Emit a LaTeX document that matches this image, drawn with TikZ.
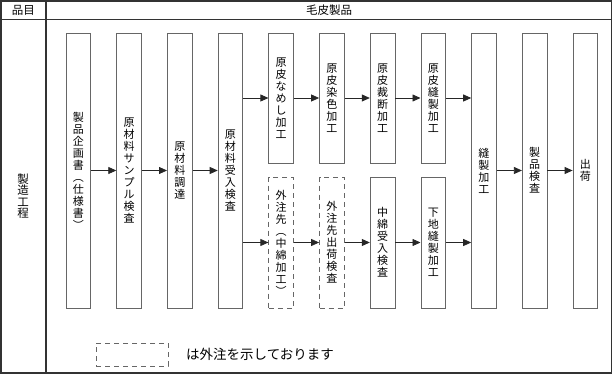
\documentclass[tikz,border=0pt]{standalone}
\usepackage{fontspec}
\newfontfamily\jp{Noto Sans CJK JP}
\usetikzlibrary{arrows.meta}
\begin{document}
\begin{tikzpicture}[x=1pt,y=-1pt,
  pbox/.style={draw=black!60, line width=0.8pt, minimum width=24.7pt, inner sep=0pt, align=center, font=\jp\fontsize{11}{12}\selectfont},
  longbox/.style={pbox, minimum height=275pt},
  topbox/.style={pbox, minimum height=130pt},
  lowbox/.style={pbox, minimum height=131pt},
  ext/.style={dash pattern=on 5pt off 4pt},
  flow/.style={-{Triangle[length=8pt,width=7pt]}, line width=0.8pt, draw=black!85},
  frame/.style={draw=black!80, line width=1.2pt},
  lbl/.style={font=\jp\fontsize{11.5}{11.3}\selectfont, inner sep=0pt, align=center}]
\useasboundingbox (0,0) rectangle (613,374);
% frame
\draw[frame] (1,1) rectangle (611.5,373);
\draw[frame] (1,19.5) -- (611.5,19.5);
\draw[frame] (46,1) -- (46,373);
% headers
\node[lbl] (hd1) at (23.5,10) {品目};
\node[lbl] (hd2) at (329,10) {毛皮製品};
\node[lbl] (proc) at (23,196) {製\\造\\工\\程};
% boxes
\node[longbox] (b1) at (78.35,170.5) {製\\品\\企\\画\\書\\︵\\仕\\様\\書\\︶};
\node[longbox] (b2) at (129.05,170.5) {原\\材\\料\\サ\\ン\\プ\\ル\\検\\査};
\node[longbox] (b3) at (179.75,170.5) {原\\材\\料\\調\\達};
\node[longbox] (b4) at (230.45,170.5) {原\\材\\料\\受\\入\\検\\査};
\node[topbox] (t1) at (281.15,98) {原\\皮\\な\\め\\し\\加\\工};
\node[topbox] (t2) at (331.85,98) {原\\皮\\染\\色\\加\\工};
\node[topbox] (t3) at (382.55,98) {原\\皮\\裁\\断\\加\\工};
\node[topbox] (t4) at (433.25,98) {原\\皮\\縫\\製\\加\\工};
\node[lowbox,ext] (u1) at (281.15,242.5) {外\\注\\先\\︵\\中\\綿\\加\\工\\︶};
\node[lowbox,ext] (u2) at (331.85,242.5) {外\\注\\先\\出\\荷\\検\\査};
\node[lowbox] (u3) at (382.55,242.5) {中\\綿\\受\\入\\検\\査};
\node[lowbox] (u4) at (433.25,242.5) {下\\地\\縫\\製\\加\\工};
\node[longbox] (b5) at (483.95,170.5) {縫\\製\\加\\工};
\node[longbox] (b6) at (534.65,170.5) {製\\品\\検\\査};
\node[longbox] (b7) at (585.35,170.5) {出\\荷};
% arrows
\draw[flow] (b1) -- (b2);
\draw[flow] (b2) -- (b3);
\draw[flow] (b3) -- (b4);
\draw[flow] (b4.east |- t1.west) -- (t1.west);
\draw[flow] (b4.east |- u1.west) -- (u1.west);
\draw[flow] (t1) -- (t2);
\draw[flow] (t2) -- (t3);
\draw[flow] (t3) -- (t4);
\draw[flow] (u1) -- (u2);
\draw[flow] (u2) -- (u3);
\draw[flow] (u3) -- (u4);
\draw[flow] (t4.east) -- (t4.east -| b5.west);
\draw[flow] (u4.east) -- (u4.east -| b5.west);
\draw[flow] (b5) -- (b6);
\draw[flow] (b6) -- (b7);
% legend
\node[pbox, ext, minimum width=72pt, minimum height=23pt] (leg) at (132,354.5) {};
\node[font=\jp\fontsize{13.5}{13.5}\selectfont, anchor=west, inner sep=0pt] (legt) at (186,354.5) {は外注を示しております};
\end{tikzpicture}
\end{document}
